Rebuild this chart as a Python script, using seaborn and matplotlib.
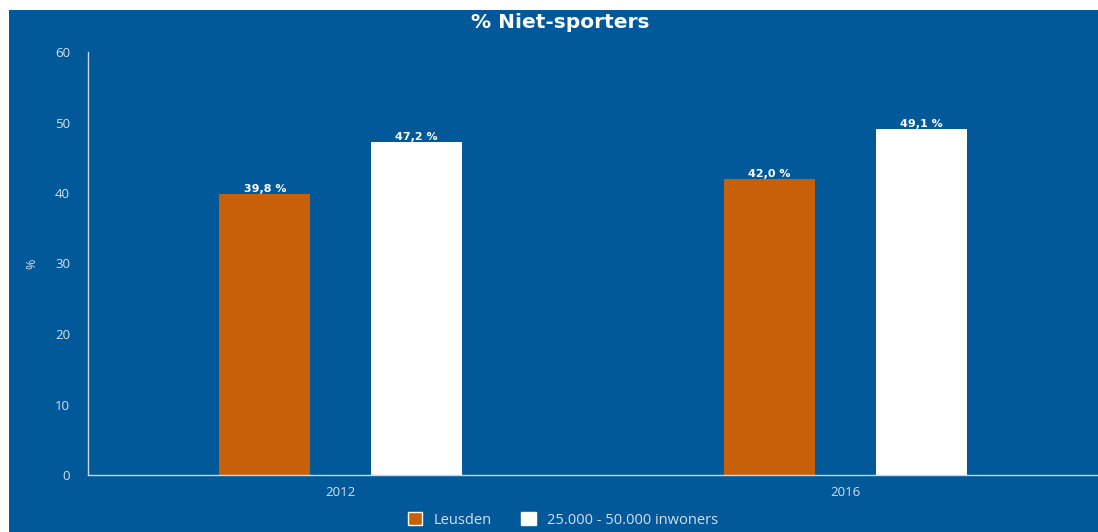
import seaborn as sns
import matplotlib.pyplot as plt
import pandas as pd
from matplotlib.patches import Rectangle

# data
jaren = ["2012", "2016"]
leusden = [39.8, 42.0]
inwoners = [47.2, 49.1]
reeksen = ["Leusden", "25.000 - 50.000 inwoners"]

bg = "#01599a"
txt = "#d6e0ee"
kleuren = ["#c8600a", "#ffffff"]

df = pd.DataFrame({
    "jaar": jaren * 2,
    "waarde": leusden + inwoners,
    "reeks": [reeksen[0]] * 2 + [reeksen[1]] * 2,
})

sns.set_theme(style="white")
plt.rcParams["font.family"] = ["Open Sans", "DejaVu Sans"]

fig = plt.figure(figsize=(10.98, 5.32), dpi=100)
fig.patch.set_facecolor("white")
fig.patches.append(Rectangle((9 / 1098, 0), 1, 1 - 10 / 532, transform=fig.transFigure,
                             facecolor=bg, edgecolor="none", zorder=-10))

ax = fig.add_axes([88 / 1098, 57 / 532, 1 - 88 / 1098, 423 / 532])
ax.set_facecolor(bg)

sns.barplot(data=df, x="jaar", y="waarde", hue="reeks", palette=kleuren,
            width=0.6, gap=0.4, ax=ax, saturation=1, linewidth=0, legend=False)

for cont in ax.containers:
    ax.bar_label(cont, labels=[f"{v:.1f} %".replace(".", ",") for v in cont.datavalues],
                 color="white", fontsize=8, fontweight="bold", padding=0,
                 family="DejaVu Sans")

ax.set_xlim(-0.5, 1.5)
ax.set_ylim(0, 60)
ax.set_yticks(range(0, 61, 10))
ax.tick_params(axis="both", colors=txt, labelsize=9.5, length=0)
ax.tick_params(axis="y", pad=13)
ax.tick_params(axis="x", pad=8)
ax.set_xlabel("")
ax.set_ylabel("%", color=txt, fontsize=9, labelpad=12)
for s in ["top", "right"]:
    ax.spines[s].set_visible(False)
for s in ["left", "bottom"]:
    ax.spines[s].set_color("#c8d6e8")
    ax.spines[s].set_linewidth(1)

fig.text(560 / 1098, 1 - 22 / 532, "% Niet-sporters", color="white", fontsize=14.5,
         fontweight="bold", ha="center", va="center", family="DejaVu Sans")

handles = [Rectangle((0, 0), 1, 1, facecolor=c) for c in kleuren]
fig.legend(handles, reeksen, loc="center", bbox_to_anchor=(563 / 1098, 1 - 520 / 532),
           ncol=2, frameon=False, fontsize=10.5, labelcolor=txt, handlelength=1.0,
           handleheight=1.0, columnspacing=2.0, handletextpad=0.8)

fig.savefig("out.png", dpi=100, facecolor=fig.get_facecolor())
